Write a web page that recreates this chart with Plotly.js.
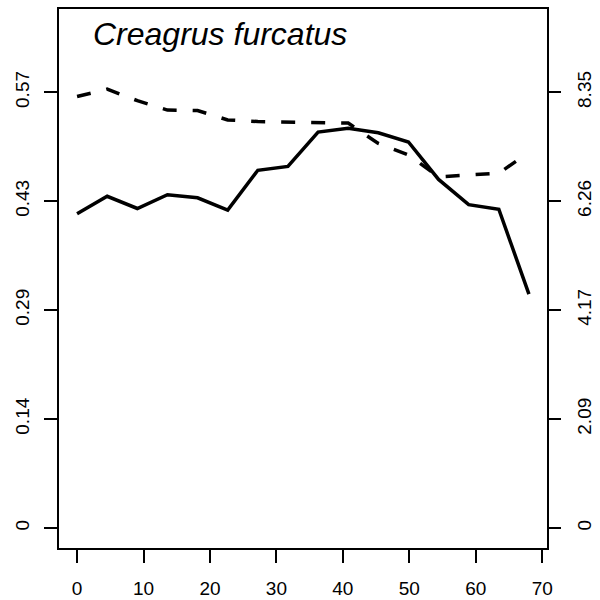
<!DOCTYPE html>
<html>
<head>
<meta charset="utf-8">
<script src="https://cdn.plot.ly/plotly-3.0.1.min.js"></script>
<style>body{margin:0;padding:0;background:#fff}#chart{width:600px;height:600px}</style>
</head>
<body>
<div id="chart"></div>
<script>
// Data
var xValues = [0, 4.53, 9.07, 13.6, 18.13, 22.67, 27.2, 31.73, 36.27, 40.8, 45.33, 49.87, 54.4, 58.93, 63.47, 68];
var solidSeries = [0.411, 0.434, 0.418, 0.436, 0.432, 0.416, 0.468, 0.473, 0.518, 0.523, 0.517, 0.505, 0.456, 0.423, 0.417, 0.306];
var dashedSeries = [8.27, 8.41, 8.19, 8.01, 8.00, 7.82, 7.79, 7.78, 7.77, 7.76, 7.37, 7.15, 6.73, 6.77, 6.80, 7.20];
var xTicks = [0, 10, 20, 30, 40, 50, 60, 70];
var leftTickVals = [0, 0.1425, 0.285, 0.4275, 0.57];
var leftTickText = ["0", "0.14", "0.29", "0.43", "0.57"];
var rightTickVals = [0, 2.0875, 4.175, 6.2625, 8.35];
var rightTickText = ["0", "2.09", "4.17", "6.26", "8.35"];
var titleText = "Creagrus furcatus";

var FONT = "Liberation Sans, Arial, Helvetica, sans-serif";
var leftMax = 0.57, rightMax = 8.35;
var yLeftRange = [-0.0262, 0.679];
var yRightRange = [yLeftRange[0] * rightMax / leftMax, yLeftRange[1] * rightMax / leftMax];

var traces = [
  {x: xValues, y: solidSeries, type: 'scatter', mode: 'lines', yaxis: 'y',
   line: {color: '#000', width: 3.5}, hoverinfo: 'skip'},
  {x: xValues, y: dashedSeries, type: 'scatter', mode: 'lines', yaxis: 'y2',
   line: {color: '#000', width: 3.5, dash: '14px,16px'}, hoverinfo: 'skip'}
];

var layout = {
  width: 600, height: 600,
  margin: {l: 59, r: 53, t: 9, b: 52, pad: 0},
  paper_bgcolor: '#fff', plot_bgcolor: '#fff',
  showlegend: false,
  font: {family: FONT, size: 19, color: '#000'},
  xaxis: {
    range: [-2.72, 70.72], tickvals: xTicks, ticktext: xTicks.map(String),
    ticks: 'outside', ticklen: 13, tickwidth: 2, tickcolor: '#000',
    showline: true, linewidth: 2, linecolor: '#000', mirror: true,
    showgrid: false, zeroline: false, ticklabelstandoff: 9,
    tickfont: {family: FONT, size: 19, color: '#000'}
  },
  yaxis: {
    range: yLeftRange, tickvals: leftTickVals, ticktext: leftTickText,
    ticks: 'outside', ticklen: 13, tickwidth: 2, tickcolor: '#000',
    showline: true, linewidth: 2, linecolor: '#000', mirror: true,
    showgrid: false, zeroline: false, tickangle: -90, ticklabelstandoff: 7,
    tickfont: {family: FONT, size: 19, color: '#000'}
  },
  yaxis2: {
    range: yRightRange, tickvals: rightTickVals, ticktext: rightTickText,
    overlaying: 'y', side: 'right',
    ticks: 'outside', ticklen: 13, tickwidth: 2, tickcolor: '#000',
    showline: false, showgrid: false, zeroline: false, tickangle: -90, ticklabelstandoff: 7,
    tickfont: {family: FONT, size: 19, color: '#000'}
  },
  annotations: [{
    text: '<i>' + titleText + '</i>', xref: 'paper', yref: 'paper',
    x: (91 - 59) / 487.7, y: 1 - (33.5 - 9) / 538.7, xanchor: 'left', yanchor: 'middle',
    showarrow: false, font: {family: FONT, size: 32, color: '#000'}
  }]
};

Plotly.newPlot('chart', traces, layout, {staticPlot: true, displayModeBar: false});
</script>
</body>
</html>
